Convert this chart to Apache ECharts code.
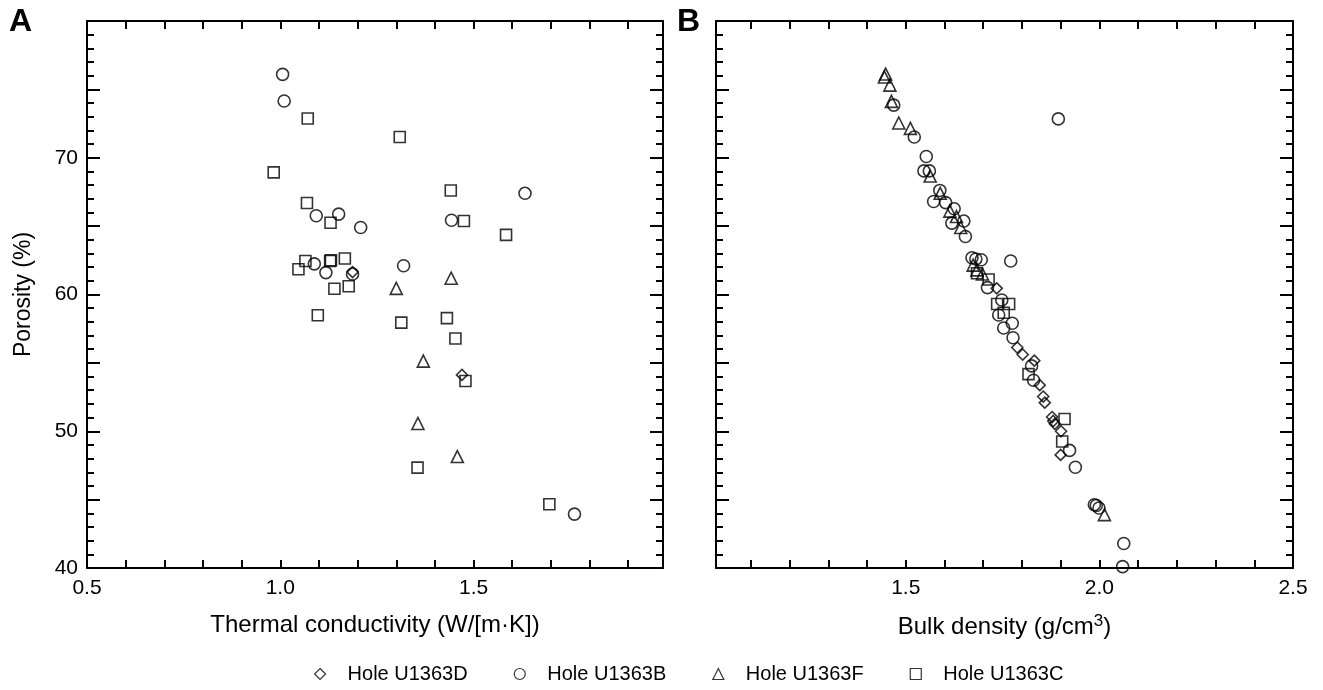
<!DOCTYPE html>
<html>
<head>
<meta charset="utf-8">
<script src="https://cdn.jsdelivr.net/npm/echarts@6/dist/echarts.min.js"></script>
<style>
html,body{margin:0;padding:0;background:#fff;}
#chart{width:1323px;height:690px;}
</style>
</head>
<body>
<div id="chart"></div>
<script>
// ---------- DATA ----------
const seriesNames = ['Hole U1363D', 'Hole U1363B', 'Hole U1363F', 'Hole U1363C'];

// Panel A: thermal conductivity (W/[m·K]) vs porosity (%)
const condD = [[1.187, 61.64], [1.47, 54.12]];
const condB = [
  [1.006, 76.1], [1.01, 74.15], [1.093, 65.76], [1.151, 65.88], [1.208, 64.9],
  [1.088, 62.24], [1.118, 61.6], [1.187, 61.5], [1.319, 62.1], [1.443, 65.43],
  [1.633, 67.4], [1.761, 43.94]
];
const condF = [[1.30, 60.45], [1.442, 61.19], [1.37, 55.13], [1.356, 50.57], [1.458, 48.15]];
const condC = [
  [1.071, 72.87], [1.309, 71.52], [0.983, 68.93], [1.069, 66.69], [1.13, 65.25],
  [1.441, 67.6], [1.475, 65.37], [1.584, 64.36], [1.065, 62.45], [1.047, 61.85],
  [1.129, 62.45], [1.131, 62.5], [1.167, 62.63], [1.14, 60.42], [1.177, 60.6],
  [1.097, 58.48], [1.313, 57.94], [1.431, 58.27], [1.453, 56.78], [1.479, 53.67],
  [1.355, 47.34], [1.696, 44.66]
];

// Panel B: bulk density (g/cm3) vs porosity (%)
const densD = [
  [1.735, 60.45], [1.788, 56.12], [1.802, 55.61], [1.832, 55.16], [1.846, 53.37],
  [1.855, 52.54], [1.859, 52.09], [1.878, 51.04], [1.881, 50.75], [1.885, 50.54],
  [1.901, 50.0], [1.9, 48.27]
];
const densB = [
  [1.469, 73.85], [1.894, 72.84], [1.522, 71.52], [1.553, 70.09], [1.547, 69.04],
  [1.561, 69.04], [1.588, 67.61], [1.572, 66.8], [1.603, 66.72], [1.625, 66.27],
  [1.619, 65.22], [1.65, 65.37], [1.654, 64.24], [1.671, 62.69], [1.681, 62.6],
  [1.695, 62.54], [1.771, 62.45], [1.711, 60.5], [1.748, 59.6], [1.74, 58.5],
  [1.775, 57.9], [1.753, 57.55], [1.777, 56.84], [1.825, 54.78], [1.83, 53.73],
  [1.923, 48.6], [1.938, 47.37], [1.987, 44.63], [1.992, 44.57], [1.999, 44.39],
  [2.063, 41.79], [2.06, 40.1]
];
const densF = [
  [1.448, 76.12], [1.445, 75.9], [1.459, 75.31], [1.463, 74.12], [1.482, 72.54],
  [1.512, 72.15], [1.563, 68.66], [1.589, 67.4], [1.614, 66.1], [1.631, 65.7],
  [1.642, 64.9], [1.674, 62.15], [1.684, 61.8], [1.698, 61.5], [2.013, 43.9]
];
const densC = [
  [1.714, 61.1], [1.684, 61.55], [1.736, 59.31], [1.767, 59.31], [1.753, 58.66],
  [1.817, 54.18], [1.91, 50.9], [1.904, 49.25]
];

// Axis ticks / labels
const condTicks = [0.6, 0.7, 0.8, 0.9, 1.0, 1.1, 1.2, 1.3, 1.4, 1.5, 1.6, 1.7, 1.8, 1.9];
const condLabels = [0.5, 1.0, 1.5];
const densTicks = [1.1, 1.2, 1.3, 1.4, 1.5, 1.6, 1.7, 1.8, 1.9, 2.0, 2.1, 2.2, 2.3, 2.4, 2.5];
const densLabels = [1.5, 2.0, 2.5];
const porosityLabels = [40, 50, 60, 70];

// ---------- CHART ----------
const FONT = 'Liberation Sans, Arial, Helvetica, sans-serif';
const chart = echarts.init(document.getElementById('chart'), null, {renderer: 'canvas'});

const lineSty = {color: '#000', width: 2};

function xAx(grid, min, max, ticks, labels, pos, name) {
  const a = {
    type: 'value', gridIndex: grid, min: min, max: max, position: pos,
    axisLine: {show: true, onZero: false, lineStyle: lineSty},
    axisTick: {show: true, inside: true, length: 8, customValues: ticks, lineStyle: lineSty},
    axisLabel: {show: pos === 'bottom', customValues: labels, formatter: v => v.toFixed(1),
      fontSize: 21, color: '#000', margin: 10, fontFamily: FONT},
    splitLine: {show: false}
  };
  if (name) {
    a.name = name; a.nameLocation = 'middle'; a.nameGap = 45;
    a.nameTextStyle = {fontSize: 24, color: '#000', fontFamily: FONT,
      rich: {sup: {fontSize: 17, padding: [0, 0, 11, 0], color: '#000', fontFamily: FONT}}};
  }
  return a;
}
function yAx(grid, pos, withName) {
  const a = {
    type: 'value', gridIndex: grid, min: 40, max: 80, interval: 5, position: pos,
    axisLine: {show: true, onZero: false, lineStyle: lineSty},
    axisTick: {show: true, inside: true, length: 13, lineStyle: lineSty},
    minorTick: {show: true, splitNumber: 5, length: 7, lineStyle: lineSty},
    axisLabel: {show: pos === 'left' && withName, fontSize: 21, color: '#000', margin: 9, fontFamily: FONT,
      formatter: v => porosityLabels.indexOf(v) >= 0 ? String(v) : ''},
    splitLine: {show: false}, minorSplitLine: {show: false}
  };
  if (withName) {
    a.name = 'Porosity (%)'; a.nameLocation = 'middle'; a.nameGap = 52; a.nameRotate = 90;
    a.nameTextStyle = {fontSize: 23, color: '#000', fontFamily: FONT};
  }
  return a;
}

const symStyle = {color: 'rgba(0,0,0,0)', borderColor: '#000', borderWidth: 1.6};
function sc(name, data, symbol, size, xi, yi) {
  return {
    type: 'scatter', name: name, data: data, symbol: symbol, symbolSize: size,
    xAxisIndex: xi, yAxisIndex: yi, itemStyle: symStyle, silent: true,
    emphasis: {disabled: true}
  };
}

const option = {
  animation: false,
  textStyle: {fontFamily: FONT},
  grid: [
    {left: 87, top: 21, width: 576, height: 547},
    {left: 716, top: 21, width: 577, height: 547}
  ],
  xAxis: [
    xAx(0, 0.5, 1.99, condTicks, condLabels, 'bottom', 'Thermal conductivity (W/[m·K])'),
    xAx(0, 0.5, 1.99, condTicks, condLabels, 'top', null),
    xAx(1, 1.01, 2.5, densTicks, densLabels, 'bottom', 'Bulk density (g/cm{sup|3})'),
    xAx(1, 1.01, 2.5, densTicks, densLabels, 'top', null)
  ],
  yAxis: [
    yAx(0, 'left', true),
    yAx(0, 'right', false),
    yAx(1, 'left', false),
    yAx(1, 'right', false)
  ],
  legend: {
    left: 309, top: 659, itemGap: 46, itemWidth: 11, itemHeight: 11,
    textStyle: {fontSize: 20, color: '#000', fontFamily: FONT, padding: [0, 0, 0, 17]},
    itemStyle: {color: 'rgba(0,0,0,0)', borderColor: '#000', borderWidth: 1.2},
    data: [
      {name: seriesNames[0], icon: 'diamond'},
      {name: seriesNames[1], icon: 'circle'},
      {name: seriesNames[2], icon: 'triangle'},
      {name: seriesNames[3], icon: 'rect'}
    ],
    selectedMode: false
  },
  graphic: [
    {type: 'text', left: 9, top: 6, style: {text: 'A', fontSize: 32, fontWeight: 'bold', fill: '#000', fontFamily: FONT}},
    {type: 'text', left: 677, top: 6, style: {text: 'B', fontSize: 32, fontWeight: 'bold', fill: '#000', fontFamily: FONT}}
  ],
  series: [
    sc(seriesNames[0], condD, 'diamond', 11, 0, 0),
    sc(seriesNames[1], condB, 'circle', 12, 0, 0),
    sc(seriesNames[2], condF, 'triangle', 12, 0, 0),
    sc(seriesNames[3], condC, 'rect', 11, 0, 0),
    sc(seriesNames[0], densD, 'diamond', 11, 2, 2),
    sc(seriesNames[1], densB, 'circle', 12, 2, 2),
    sc(seriesNames[2], densF, 'triangle', 12, 2, 2),
    sc(seriesNames[3], densC, 'rect', 11, 2, 2)
  ]
};
chart.setOption(option);
</script>
</body>
</html>
